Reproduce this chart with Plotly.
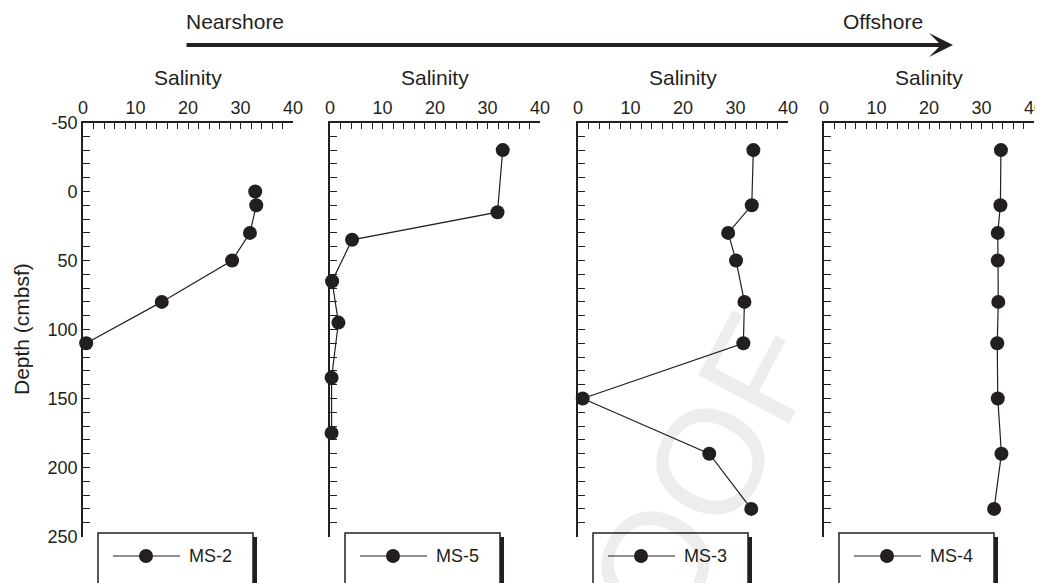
import plotly.graph_objects as go

# ---------------- data ----------------
ms2_depth = [0, 10, 30, 50, 80, 110]
ms2_sal = [32.8, 33.0, 31.8, 28.4, 15.0, 0.6]

ms5_depth = [-30, 15, 35, 65, 95, 135, 175]
ms5_sal = [32.9, 31.9, 4.2, 0.4, 1.6, 0.3, 0.3]

ms3_depth = [-30, 10, 30, 50, 80, 110, 150, 190, 230]
ms3_sal = [33.4, 33.1, 28.6, 30.1, 31.7, 31.5, 0.9, 25.0, 33.0]

ms4_depth = [-30, 10, 30, 50, 80, 110, 150, 190, 230]
ms4_sal = [33.7, 33.6, 33.1, 33.1, 33.2, 33.0, 33.1, 33.8, 32.4]

station_names = ["MS-2", "MS-5", "MS-3", "MS-4"]
x_title = "Salinity"
y_title = "Depth (cmbsf)"
x_tickvals = list(range(0, 41, 2))
x_ticklabels = [str(v) if v % 10 == 0 else "" for v in x_tickvals]
y_tickvals = list(range(-50, 251, 10))
y_ticklabels = [str(v) if v % 50 == 0 else "" for v in y_tickvals]

series = [(ms2_sal, ms2_depth), (ms5_sal, ms5_depth), (ms3_sal, ms3_depth), (ms4_sal, ms4_depth)]

# ---------------- layout helpers ----------------
W, H = 1043, 583
OFF = 8  # page body margin
INK = "#231f20"
FONT = "Liberation Sans, Arial, sans-serif"


def px(x):
    return (x - OFF) / W


def py(y):
    return 1 - (y - OFF) / H


panel_left = [83, 330, 578, 824]
panel_w = 210
top_px, bot_px = 122.5, 536.5

fig = go.Figure()
shapes = []
annotations = []

for i, ((sal, dep), name) in enumerate(zip(series, station_names)):
    k = "" if i == 0 else str(i + 1)
    fig.add_trace(go.Scatter(
        x=sal, y=dep, mode="lines+markers", name=name,
        xaxis="x" + k, yaxis="y" + k,
        line=dict(color=INK, width=1.2),
        marker=dict(color=INK, size=14),
        cliponaxis=False, showlegend=False,
    ))
    L = panel_left[i]
    fig.layout["xaxis" + k] = dict(
        domain=[px(L), px(L + panel_w)], anchor="y" + k, side="top",
        range=[0, 40], tickvals=x_tickvals, ticktext=x_ticklabels,
        ticks="inside", ticklen=7, tickwidth=1.3, tickcolor=INK,
        showline=True, linewidth=1.6, linecolor=INK,
        showgrid=False, zeroline=False, automargin=False,
        tickfont=dict(family=FONT, size=18, color=INK),
    )
    fig.layout["yaxis" + k] = dict(
        domain=[py(bot_px), py(top_px)], anchor="x" + k,
        range=[250, -50], tickvals=y_tickvals,
        ticktext=y_ticklabels if i == 0 else [""] * len(y_tickvals),
        ticks="inside", ticklen=7, tickwidth=1.3, tickcolor=INK,
        showline=True, linewidth=1.6, linecolor=INK,
        showgrid=False, zeroline=False, automargin=False,
        tickfont=dict(family=FONT, size=18, color=INK),
    )
    # "Salinity" title
    annotations.append(dict(
        x=px(L + panel_w / 2), y=py(78), xref="paper", yref="paper",
        text=x_title, showarrow=False, xanchor="center", yanchor="middle",
        font=dict(family=FONT, size=21, color=INK),
    ))
    # legend box with drop shadow
    shapes.append(dict(type="rect", xref="paper", yref="paper",
                       x0=px(L + 19), x1=px(L + 174), y0=py(600), y1=py(537),
                       fillcolor=INK, line=dict(width=0)))
    shapes.append(dict(type="rect", xref="paper", yref="paper",
                       x0=px(L + 15), x1=px(L + 170), y0=py(596), y1=py(533),
                       fillcolor="white", line=dict(color=INK, width=1.5)))
    shapes.append(dict(type="line", xref="paper", yref="paper",
                       x0=px(L + 30), x1=px(L + 97), y0=py(556), y1=py(556),
                       line=dict(color=INK, width=1.2)))
    shapes.append(dict(type="circle", xref="paper", yref="paper",
                       xsizemode="pixel", ysizemode="pixel",
                       xanchor=px(L + 63), yanchor=py(556),
                       x0=-7, x1=7, y0=-7, y1=7,
                       fillcolor=INK, line=dict(color=INK, width=0)))
    annotations.append(dict(
        x=px(L + 104), y=py(556), xref="paper", yref="paper",
        text=name, showarrow=False, xanchor="left", yanchor="middle",
        font=dict(family=FONT, size=18, color=INK),
    ))

# y axis title
annotations.append(dict(
    x=px(21), y=py(329), xref="paper", yref="paper", text=y_title,
    textangle=-90, showarrow=False, xanchor="center", yanchor="middle",
    font=dict(family=FONT, size=21, color=INK),
))

# Nearshore -> Offshore arrow
annotations.append(dict(
    x=px(953), y=py(45), xref="paper", yref="paper", text="",
    showarrow=True, ax=185 - 953, ay=0, axref="pixel", ayref="pixel",
    arrowhead=3, arrowsize=1.0, arrowwidth=4, arrowcolor=INK, standoff=0,
))
annotations.append(dict(
    x=px(184), y=py(22), xref="paper", yref="paper", text="Nearshore",
    showarrow=False, xanchor="left", yanchor="middle",
    font=dict(family=FONT, size=21, color=INK),
))
annotations.append(dict(
    x=px(841), y=py(22), xref="paper", yref="paper", text="Offshore",
    showarrow=False, xanchor="left", yanchor="middle",
    font=dict(family=FONT, size=21, color=INK),
))

# faint watermark
annotations.append(dict(
    x=px(655), y=py(565), xref="paper", yref="paper", text="PROOF",
    textangle=-62, showarrow=False, xanchor="center", yanchor="middle",
    font=dict(family=FONT, size=150, color="rgba(0,0,0,0.07)"),
))

fig.update_layout(
    width=W, height=H, margin=dict(l=0, r=0, t=0, b=0, pad=0, autoexpand=False),
    paper_bgcolor="white", plot_bgcolor="white",
    shapes=shapes, annotations=annotations, showlegend=False,
)

fig.write_html("out.html")
